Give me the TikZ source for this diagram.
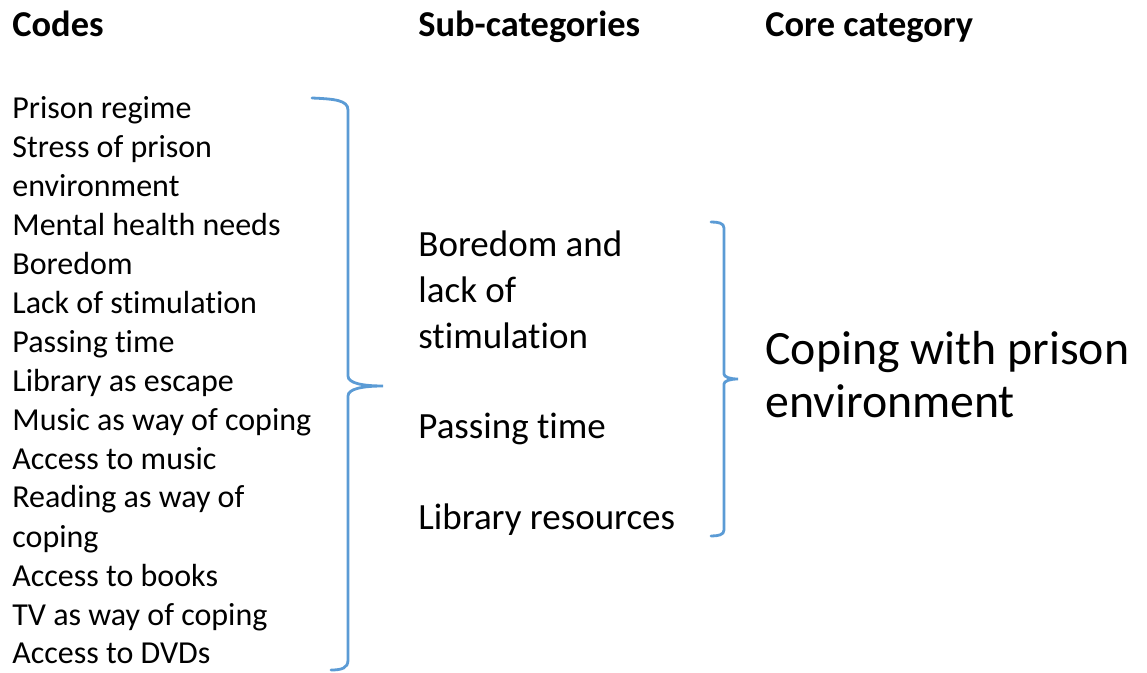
\documentclass[tikz,border=0pt]{standalone}
\usepackage{fontspec}
\setmainfont{Carlito}[Ligatures=NoCommon]
\usetikzlibrary{positioning}

\definecolor{bracecol}{HTML}{5B9BD5}

\begin{document}
\begin{tikzpicture}[x=0.5pt,y=-0.5pt,
  txt/.style={anchor=base west,inner sep=0pt,align=left},
  head/.style={txt,font=\fontsize{18.2}{22}\selectfont\bfseries},
  bracket/.style={draw=bracecol,line width=1.4pt,line cap=round}]
  \useasboundingbox (0,0) rectangle (1147,673);
  % column titles
  \node[head] (hcodes) at (12,37) {Codes};
  \node[head] (hsub) at (418,37) {Sub-categories};
  \node[head] (hcore) at (765,37) {Core category};
  % codes (node sits on its last baseline)
  \node[txt,font=\fontsize{16}{19.5}\selectfont] (codes) at (12,664)
    {Prison regime\\Stress of prison\\environment\\Mental health needs\\Boredom\\
     Lack of stimulation\\Passing time\\Library as escape\\Music as way of coping\\
     Access to music\\Reading as way of\\coping\\Access to books\\
     TV as way of coping\\Access to DVDs};
  % sub-categories
  \begin{scope}[every node/.style={txt,font=\fontsize{18.5}{23}\selectfont}]
    \node (boredom) at (418,349) {Boredom and\\lack of\\stimulation};
    \node (passing) at (418,439) {Passing time};
    \node (library) at (418,530) {Library resources};
  \end{scope}
  % core category
  \node[txt,font=\fontsize{23.9}{26.5}\selectfont] (core) at (765,418)
    {Coping with prison\\environment};
  % brace round the codes
  \draw[bracket] (312,98) .. controls (334,99) and (348,100) .. (348,110)
    -- (348,376) .. controls (348,383) and (362,386) .. (383,386)
    .. controls (362,386) and (348,389) .. (348,396)
    -- (348,660) .. controls (348,668) and (342,670) .. (331,670);
  % brace round the sub-categories
  \draw[bracket] (711,222) .. controls (718,222) and (724,223) .. (724,228)
    -- (724,374) .. controls (724,377) and (730,379) .. (738,379)
    .. controls (730,379) and (724,381) .. (724,384)
    -- (724,530) .. controls (724,535) and (718,536) .. (711,536);
\end{tikzpicture}
\end{document}
